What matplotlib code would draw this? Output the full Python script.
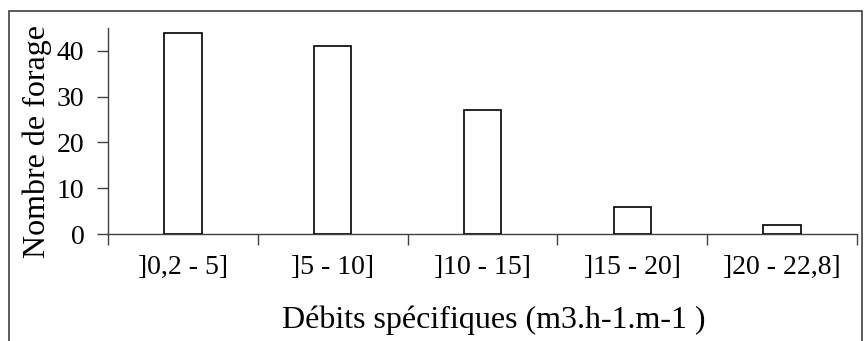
import matplotlib.pyplot as plt
from matplotlib.patches import Rectangle
import numpy as np

categories = ["]0,2 - 5]", "]5 - 10]", "]10 - 15]", "]15 - 20]", "]20 - 22,8]"]
counts = [44, 41, 27, 6, 2]
yticks = [0, 10, 20, 30, 40]

plt.rcParams["font.family"] = ["Liberation Serif", "DejaVu Serif"]

fig = plt.figure(figsize=(8.64, 3.41), dpi=100)
ax = fig.add_axes([108 / 864, 1 - 234 / 341, (857 - 108) / 864, (234 - 28) / 341])

x = np.arange(len(categories))
ax.bar(x, counts, width=0.25, color="white", edgecolor="black", linewidth=1.2, zorder=3)

ax.set_xlim(-0.5, len(categories) - 0.5)
ax.set_ylim(0, 45)
ax.set_yticks(yticks)
ax.set_xticks(np.arange(len(categories) + 1) - 0.5)
ax.set_xticklabels([])
ax.set_xticks(x, minor=True)
ax.set_xticklabels(categories, minor=True)
ax.tick_params(axis="x", which="major", length=8, width=1, color="#404040", direction="out")
ax.tick_params(axis="x", which="minor", length=0, pad=15, labelsize=20)
ax.tick_params(axis="y", length=8, width=1, color="#404040", labelsize=20, pad=9)

for s in ["top", "right"]:
    ax.spines[s].set_visible(False)
for s in ["left", "bottom"]:
    ax.spines[s].set_color("#404040")
    ax.spines[s].set_linewidth(1)

ax.set_ylabel("Nombre de forage", fontsize=23)
ax.set_xlabel("Débits spécifiques (m3.h-1.m-1 )", fontsize=23)
# Excel-like placement of the axis titles
ax.yaxis.set_label_coords(-0.075, 0.45)
ax.xaxis.set_label_coords(0.515, -0.345)

# outer frame of the chart area
frame = Rectangle((9 / 864, -0.1), (862 - 9) / 864, 1 - 11 / 341 + 0.1,
                  transform=fig.transFigure, fill=False, edgecolor="#404040", linewidth=1.2)
fig.patches.append(frame)

fig.savefig("out.png", dpi=100)
